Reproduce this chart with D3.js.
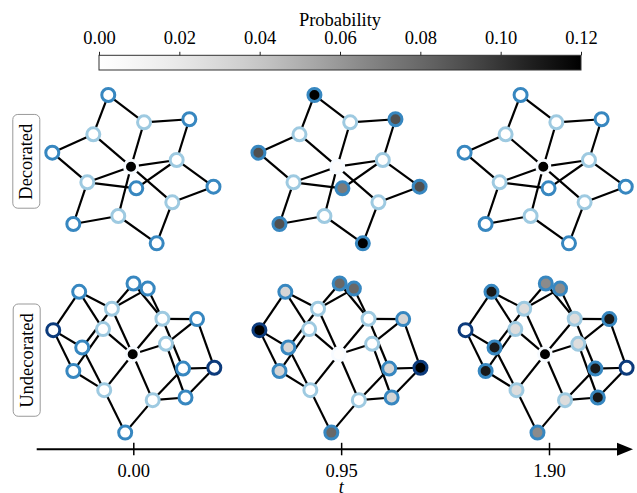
<!DOCTYPE html>
<html>
<head>
<meta charset="utf-8">
<script src="https://cdn.jsdelivr.net/npm/d3@7"></script>
<style>
  body { margin: 0; background: #fff; }
  svg text { font-family: "Liberation Serif", "Times New Roman", serif; fill: #000; }
</style>
</head>
<body>
<svg id="contenedor"></svg>
<script>
// tiempos de las instantaneas
let tiempos = [0, 0.95, 1.90];
let etiquetasTiempo = ["0.00", "0.95", "1.90"];

// ticks de la barra de color
let ticksProbabilidad = [0, 0.02, 0.04, 0.06, 0.08, 0.10, 0.12];

// nombres de las filas
let filas = ["Decorated", "Undecorated"];

// colores del borde segun distancia al nodo central
let coloresDistancia = ["#f7fbff", "#9ecae1", "#3787c0", "#0c3b7c"];

/* ############################ GRAFO DECORADO ############################ */
let nodosDec = ["c", "i1", "i2", "i3", "i4", "i5", "i6", "o1", "o2", "o3", "o4", "o5", "o6", "d"];
let xDec = [0, 0.163, -0.471, 0.571, -0.546, 0.516, -0.159, -0.284, 0.729, -0.984, 1.031, -0.721, 0.321, 0.066];
let yDec = [0, 0.555, 0.405, 0.084, -0.195, -0.445, -0.616, 0.896, 0.593, 0.175, -0.25, -0.716, -0.958, -0.27];
let aristasDec = [
  ["c", "i1"], ["c", "i2"], ["c", "i3"], ["c", "i4"], ["c", "i5"], ["c", "i6"],
  ["o1", "i1"], ["o1", "i2"], ["o2", "i1"], ["o2", "i3"], ["o3", "i2"], ["o3", "i4"],
  ["o4", "i3"], ["o4", "i5"], ["o5", "i4"], ["o5", "i6"], ["o6", "i6"], ["o6", "i5"],
  ["d", "i4"], ["d", "i3"]
];
let probDecT0 = [1, 0, 0, 0, 0, 0, 0, 0, 0, 0, 0, 0, 0, 0];
let probDecT1 = [0.003, 0.001, 0.001, 0.001, 0.001, 0.001, 0.001, 0.125, 0.09, 0.09, 0.09, 0.09, 0.125, 0.072];
let probDecT2 = [1, 0, 0, 0, 0, 0, 0, 0, 0, 0, 0, 0, 0, 0];

/* ############################ GRAFO NO DECORADO ############################ */
let nodosUnd = ["c", "A", "B", "C", "D", "E", "F", "G", "H", "I", "J", "K", "L", "M", "N", "O", "P", "Q"];
let xUnd = [0, -0.669, 0.01, 0.188, -0.26, -0.371, -0.993, -0.631, -0.742, -0.356, -0.094, 0.371, 0.416, 0.804, 0.629, 1.02, 0.25, 0.66];
let yUnd = [0, 0.781, 0.885, 0.821, 0.569, 0.315, 0.302, 0.085, -0.209, -0.448, -0.979, 0.444, 0.131, 0.44, -0.178, -0.168, -0.573, -0.54];
let aristasUnd = [
  ["F", "A"], ["F", "G"], ["F", "H"], ["A", "D"], ["A", "E"], ["D", "G"], ["E", "H"],
  ["D", "B"], ["D", "C"], ["B", "K"], ["C", "K"], ["D", "c"], ["E", "c"],
  ["G", "I"], ["H", "I"], ["I", "c"], ["I", "J"], ["J", "P"], ["P", "c"],
  ["P", "Q"], ["P", "N"], ["K", "c"], ["L", "c"], ["K", "M"], ["L", "M"],
  ["M", "O"], ["N", "O"], ["Q", "O"], ["K", "N"], ["L", "Q"]
];
let probUndT0 = [1, 0, 0, 0, 0, 0, 0, 0, 0, 0, 0, 0, 0, 0, 0, 0, 0, 0];
let probUndT1 = [0.002, 0.032, 0.08, 0.08, 0, 0, 0.13, 0.032, 0.032, 0, 0.08, 0, 0, 0.032, 0.032, 0.13, 0, 0.032];
let probUndT2 = [0.125, 0.11, 0.065, 0.065, 0.027, 0.027, 0, 0.11, 0.11, 0.027, 0.065, 0.027, 0.027, 0.11, 0.11, 0, 0.027, 0.11];

/* ############################ TRANSFORMACIONES ############################ */
// distancia de cada nodo al central (BFS)
function getDistancias(nodos, aristas) {
  let dist = {};
  dist[nodos[0]] = 0;
  let cola = [nodos[0]];
  while (cola.length) {
    let n = cola.shift();
    aristas.forEach(([a, b]) => {
      let otro = a === n ? b : b === n ? a : null;
      if (otro !== null && dist[otro] === undefined) {
        dist[otro] = dist[n] + 1;
        cola.push(otro);
      }
    });
  }
  return dist;
}

// armar el grafo con posiciones y probabilidades
function getGrafo(nodos, xs, ys, aristas, probs) {
  let dist = getDistancias(nodos, aristas);
  let lista = nodos.map((n, i) => ({
    id: n, x: xs[i], y: ys[i], dist: dist[n],
    prob: probs.map((p) => p[i]),
  }));
  let porId = {};
  lista.forEach((n) => (porId[n.id] = n));
  return { nodos: lista, aristas: aristas.map(([a, b]) => [porId[a], porId[b]]) };
}

/* ############################ CONFIG ############################ */
function getConfig() {
  let width = 637;
  let height = 493;
  let container = d3.select("#contenedor").attr("width", width).attr("height", height);
  return { width, height, container };
}

function getScales() {
  let xTiempo = d3.scaleLinear().domain([0, 1.9]).range([133.3, 549]);
  let xBarra = d3.scaleLinear().domain([0, 0.12]).range([99, 581]);
  let relleno = d3.scaleSequential(d3.interpolateGreys).domain([0, 0.12]).clamp(true);
  let borde = d3.scaleOrdinal().domain([0, 1, 2, 3]).range(coloresDistancia);
  // escala del layout (unidades -> px)
  let gx = d3.scaleLinear().domain([-1, 1]).range([-80, 80]);
  let gy = d3.scaleLinear().domain([-1, 1]).range([80, -80]);
  return { xTiempo, xBarra, relleno, borde, gx, gy };
}

/* ############################ BARRA DE COLOR ############################ */
function dibujarBarra(scales, config) {
  let { xBarra } = scales;
  let { container } = config;
  let top = 55.3, alto = 14.7;

  let grad = container.append("defs").append("linearGradient").attr("id", "greys");
  d3.range(0, 1.0001, 0.05).forEach((f) => {
    grad.append("stop").attr("offset", f * 100 + "%").attr("stop-color", d3.interpolateGreys(f));
  });

  container.append("rect")
    .attr("x", xBarra(0)).attr("y", top)
    .attr("width", xBarra(0.12) - xBarra(0)).attr("height", alto)
    .attr("fill", "url(#greys)")
    .attr("stroke", "#333").attr("stroke-width", 1);

  let eje = d3.axisTop(xBarra).tickValues(ticksProbabilidad)
    .tickFormat(d3.format(".2f")).tickSize(3.5).tickPadding(7.5);
  let g = container.append("g").attr("transform", `translate(0, ${top})`).call(eje);
  g.select(".domain").remove();
  g.selectAll("line").attr("stroke", "#222");
  g.selectAll("text").attr("font-size", 18.5).attr("font-family", null);

  container.append("text")
    .attr("x", xBarra(0.06)).attr("y", 26)
    .attr("text-anchor", "middle").attr("font-size", 18.5)
    .text("Probability");
}

/* ############################ GRAFOS ############################ */
function dibujarGrafo(grafo, fila, scales, config) {
  let { relleno, borde, gx, gy } = scales;
  let { container } = config;
  let xPanel = d3.scaleLinear().domain([0, 1.9]).range(fila.rangoX);

  tiempos.forEach((t, k) => {
    let body = container.append("g")
      .attr("transform", `translate(${xPanel(t)}, ${fila.y})`);

    body.selectAll("line").data(grafo.aristas).enter().append("line")
      .attr("x1", (d) => gx(d[0].x)).attr("y1", (d) => gy(d[0].y))
      .attr("x2", (d) => gx(d[1].x)).attr("y2", (d) => gy(d[1].y))
      .attr("stroke", "#000").attr("stroke-width", 2.2);

    body.selectAll("circle").data(grafo.nodos).enter().append("circle")
      .attr("cx", (d) => gx(d.x)).attr("cy", (d) => gy(d.y))
      .attr("r", 6.5)
      .attr("fill", (d) => relleno(d.prob[k]))
      .attr("stroke", (d) => borde(d.dist))
      .attr("stroke-width", 3);
  });
}

// etiqueta de fila con caja redondeada
function dibujarEtiquetaFila(texto, cx, cy, config) {
  let g = config.container.append("g")
    .attr("transform", `translate(${cx}, ${cy}) rotate(-90)`);
  let caja = g.append("rect");
  let txt = g.append("text")
    .attr("text-anchor", "middle").attr("dominant-baseline", "central")
    .attr("font-size", 18.5).text(texto);
  let bb = txt.node().getBBox();
  let padX = 8.5, padY = 3.5;
  caja.attr("x", bb.x - padX).attr("y", bb.y - padY)
    .attr("width", bb.width + 2 * padX).attr("height", bb.height + 2 * padY)
    .attr("rx", 5).attr("fill", "#fff")
    .attr("stroke", "#999").attr("stroke-width", 1);
}

/* ############################ EJE DE TIEMPO ############################ */
function dibujarEje(scales, config) {
  let { xTiempo } = scales;
  let { container } = config;
  let y0 = 449.3;

  container.append("line")
    .attr("x1", 36.7).attr("x2", 620).attr("y1", y0).attr("y2", y0)
    .attr("stroke", "#000").attr("stroke-width", 2);
  container.append("path")
    .attr("d", `M617,${y0 - 6.5} L633,${y0} L617,${y0 + 6.5} Z`)
    .attr("fill", "#000");

  let eje = d3.axisBottom(xTiempo).tickValues(tiempos)
    .tickFormat((d, i) => etiquetasTiempo[i]).tickSize(6).tickPadding(8.3);
  let g = container.append("g").attr("transform", `translate(0, ${y0})`).call(eje);
  g.select(".domain").remove();
  g.selectAll("line").attr("y1", -6.5).attr("stroke", "#000").attr("stroke-width", 1.5);
  g.selectAll("text").attr("font-size", 18.5).attr("font-family", null);

  // etiqueta del eje, pegada al borde inferior como en el original
  container.append("text")
    .attr("x", xTiempo(0.95)).attr("y", 492.5)
    .attr("text-anchor", "middle").attr("font-size", 18)
    .attr("font-style", "italic").text("t");
}

/* ############################ PRINCIPAL ############################ */
function dibujarTodo() {
  let config = getConfig();
  let scales = getScales();

  let grafoDec = getGrafo(nodosDec, xDec, yDec, aristasDec, [probDecT0, probDecT1, probDecT2]);
  let grafoUnd = getGrafo(nodosUnd, xUnd, yUnd, aristasUnd, [probUndT0, probUndT1, probUndT2]);

  dibujarBarra(scales, config);
  dibujarGrafo(grafoDec, { rangoX: [131, 543.3], y: 166.7 }, scales, config);
  dibujarGrafo(grafoUnd, { rangoX: [132.7, 545], y: 354.3 }, scales, config);
  dibujarEtiquetaFila(filas[0], 26.3, 161.7, config);
  dibujarEtiquetaFila(filas[1], 26.7, 360.5, config);
  dibujarEje(scales, config);
}

dibujarTodo();
</script>
</body>
</html>
